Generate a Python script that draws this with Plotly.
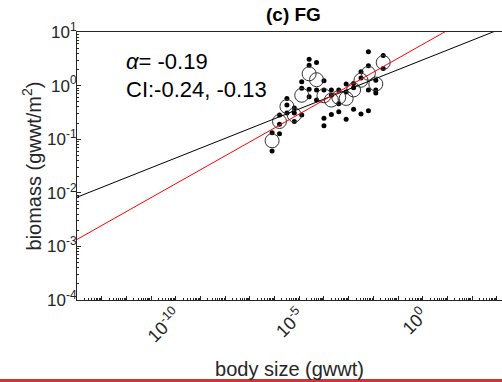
import plotly.graph_objects as go

# ---- data ----
# size-class body sizes, log10(gwwt)
class_log_size = [-6.1, -5.8, -5.5, -5.2, -4.9, -4.6, -4.3, -4.0,
                  -3.7, -3.4, -3.1, -2.8, -2.5, -2.2, -1.9, -1.6]
# mean biomass per size class, log10(gwwt/m2)
class_log_biomass = [-1.03, -0.67, -0.39, -0.55, -0.18, 0.22, 0.11, -0.19,
                     -0.27, -0.22, -0.24, -0.08, 0.10, 0.23, 0.03, 0.43]

# individual observations: size-class index and log10 biomass
obs_class = [0, 0,
             1, 1, 1,
             2, 2, 2,
             3, 3, 3,
             4, 4, 4,
             5, 5, 5, 5,
             6, 6, 6,
             7, 7, 7, 7,
             8, 8, 8,
             9, 9, 9,
             10, 10, 10,
             11, 11, 11,
             12, 12, 12,
             13, 13, 13, 13,
             14, 14, 14,
             15, 15]
obs_log_biomass = [-0.88, -1.22,
                   -0.55, -0.72, -0.90,
                   -0.24, -0.36, -0.51,
                   -0.42, -0.67, -0.51,
                   0.07, -0.05, -0.55,
                   0.49, 0.38, -0.07, -0.21,
                   0.43, -0.08, -0.27,
                   0.09, -0.61, -0.75, -0.08,
                   -0.08, -0.54, -0.18,
                   -0.08, -0.34, -0.49,
                   0.03, -0.63, -0.12,
                   0.04, -0.44, -0.04,
                   0.26, -0.53, 0.14,
                   0.63, -0.08, -0.47, 0.37,
                   -0.08, -0.14, 0.10,
                   0.56, 0.32]

# fitted lines: log10(biomass) = intercept + slope*log10(size)
fit_black = dict(intercept=0.48, slope=0.183)
fit_red = dict(intercept=0.77, slope=0.26)

x_log_range = [-14, 3.21]
y_log_range = [-4, 1]

x_label_exps = [-10, -5, 0]
y_label_exps = [-4, -3, -2, -1, 0, 1]

alpha_text = "<i>α</i>= -0.19"
ci_text = "CI:-0.24, -0.13"
panel_title = "(c) FG"
x_title = "body size (gwwt)"
y_title = "biomass (gwwt/m<sup>2</sup>)"

# ---- build ----
class_size = [10 ** v for v in class_log_size]
class_biomass = [10 ** v for v in class_log_biomass]
obs_size = [class_size[i] for i in obs_class]
obs_biomass = [10 ** v for v in obs_log_biomass]


def line_pts(fit):
    xs = [10 ** x_log_range[0], 10 ** x_log_range[1]]
    ys = [10 ** (fit["intercept"] + fit["slope"] * x_log_range[0]),
          10 ** (fit["intercept"] + fit["slope"] * x_log_range[1])]
    return xs, ys


fig = go.Figure()
fig.add_trace(go.Scatter(x=obs_size, y=obs_biomass, mode="markers",
                         marker=dict(size=5, color="black"),
                         showlegend=False))
fig.add_trace(go.Scatter(x=class_size, y=class_biomass, mode="markers",
                         marker=dict(size=14, symbol="circle-open",
                                     color="#333333", line=dict(width=1)),
                         showlegend=False))
bx, by = line_pts(fit_black)
fig.add_trace(go.Scatter(x=bx, y=by, mode="lines",
                         line=dict(color="black", width=1), showlegend=False))
rx, ry = line_pts(fit_red)
fig.add_trace(go.Scatter(x=rx, y=ry, mode="lines", xaxis="x2",
                         line=dict(color="#ff0000", width=1), showlegend=False))

axis_color = "#262626"
font_family = "Liberation Sans, Arial, sans-serif"

x_decades = [10 ** e for e in range(-14, 4)]
x_lab_vals = [10 ** e for e in x_label_exps]
x_lab_text = ["10<sup>%d</sup>" % e for e in x_label_exps]
y_vals = [10 ** e for e in y_label_exps]
y_text = ["10<sup>%d</sup>" % e for e in y_label_exps]

fig.update_layout(
    width=502, height=382,
    margin=dict(l=77, r=0, t=32, b=82),
    paper_bgcolor="white", plot_bgcolor="white",
    font=dict(family=font_family, color=axis_color),
    xaxis=dict(type="log", range=x_log_range,
               tickmode="array", tickvals=x_decades, showticklabels=False,
               ticks="inside", ticklen=4, tickwidth=1, tickcolor=axis_color,
               minor=dict(ticks="inside", ticklen=2, dtick="D1",
                          tickcolor=axis_color, showgrid=False),
               showline=True, linecolor=axis_color, linewidth=1, mirror=True,
               showgrid=False, zeroline=False),
    xaxis2=dict(type="log", range=x_log_range, overlaying="x", side="bottom",
                tickmode="array", tickvals=x_lab_vals, ticktext=x_lab_text,
                tickangle=-45, ticks="", showline=False, showgrid=False,
                zeroline=False,
                tickfont=dict(size=18, color=axis_color),
                title=dict(text=x_title, font=dict(size=20, color=axis_color),
                           standoff=16)),
    yaxis=dict(type="log", range=y_log_range,
               tickmode="array", tickvals=y_vals, ticktext=y_text,
               ticks="inside", ticklen=4, tickwidth=1, tickcolor=axis_color,
               minor=dict(ticks="inside", ticklen=2, dtick="D1",
                          tickcolor=axis_color, showgrid=False),
               showline=True, linecolor=axis_color, linewidth=1, mirror=False,
               showgrid=False, zeroline=False, ticklabelstandoff=-4,
               tickfont=dict(size=17, color=axis_color),
               title=dict(text=y_title, font=dict(size=20, color=axis_color),
                          standoff=0)),
    annotations=[
        dict(text="<b>" + panel_title + "</b>", xref="paper", yref="paper",
             x=(293 - 77) / 425, y=1.0, yshift=18, xanchor="center",
             yanchor="middle", showarrow=False,
             font=dict(size=19, color="black")),
        dict(text=alpha_text, xref="paper", yref="paper",
             x=(124 - 77) / 425, y=(300 - 61) / 268, xanchor="left",
             yanchor="middle", showarrow=False,
             font=dict(size=22, color="black")),
        dict(text=ci_text, xref="paper", yref="paper",
             x=(124 - 77) / 425, y=(300 - 89) / 268, xanchor="left",
             yanchor="middle", showarrow=False,
             font=dict(size=22, color="black")),
    ],
    shapes=[
        dict(type="rect", xref="paper", yref="paper",
             x0=-77 / 425, x1=1.0, y0=-82 / 268, y1=-79 / 268,
             fillcolor="#d03438", line=dict(width=0)),
    ],
)

fig.write_html("out.html")
